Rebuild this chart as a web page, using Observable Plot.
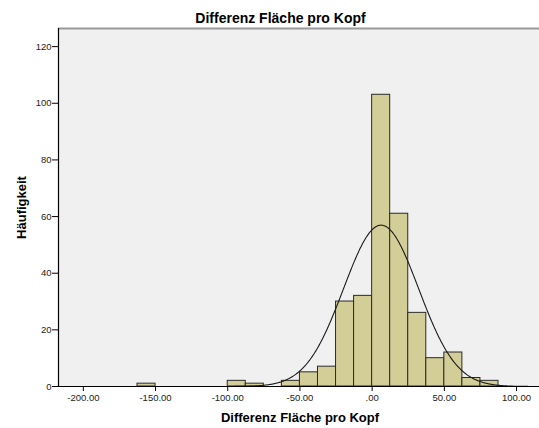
<!DOCTYPE html>
<html>
<head>
<meta charset="utf-8">
<script src="https://cdn.jsdelivr.net/npm/d3@7"></script>
<script src="https://cdn.jsdelivr.net/npm/@observablehq/plot@0.6"></script>
<style>
  html, body { margin: 0; padding: 0; background: #ffffff; }
  #chart { width: 539px; height: 428px; }
</style>
</head>
<body>
<div id="chart"></div>
<script>
// Histogram of per-capita area difference with fitted normal curve
const title = "Differenz Fläche pro Kopf";
const xLabel = "Differenz Fläche pro Kopf";
const yLabel = "Häufigkeit";

// Bin edges and frequencies
const binLow  = [-162.5, -100, -87.5, -62.5, -50, -37.5, -25, -12.5, 0, 12.5, 25, 37.5, 50, 62.5, 75];
const binHigh = [-150, -87.5, -75, -50, -37.5, -25, -12.5, 0, 12.5, 25, 37.5, 50, 62.5, 75, 87.5];
const counts  = [1, 2, 1, 2, 5, 7, 30, 32, 103, 61, 26, 10, 12, 3, 2];

// Axis ticks
const xTicks = [-200, -150, -100, -50, 0, 50, 100];
const yTicks = [0, 20, 40, 60, 80, 100, 120];

// Normal fit parameters
const fitMean = 6.2;
const fitSd = 26;
const binWidth = 12.5;

const xDomain = [-217.2, 115.9];
const yDomain = [0, 126.4];

const bars = binLow.map((lo, i) => ({lo, hi: binHigh[i], n: counts[i]}));
const total = d3.sum(counts);
const curve = d3.range(xDomain[0], xDomain[1] + 0.5, 0.5).map(x => ({
  x,
  y: total * binWidth / (fitSd * Math.sqrt(2 * Math.PI)) *
     Math.exp(-0.5 * ((x - fitMean) / fitSd) ** 2)
}));

const fmt = d => d.toFixed(2).replace(/^(-?)0\./, "$1.");

const chart = Plot.plot({
  width: 539,
  height: 428,
  marginTop: 28,
  marginLeft: 58,
  marginRight: 0,
  marginBottom: 42,
  style: {fontFamily: "'Liberation Sans', Arial, sans-serif", background: "#ffffff", color: "#222"},
  x: {domain: xDomain, ticks: xTicks, tickFormat: fmt, tickSize: 5, tickPadding: 3, label: null},
  y: {domain: yDomain, ticks: yTicks, tickSize: 6, tickPadding: 1, label: null},
  marks: [
    Plot.frame({fill: "#f0f0f0", stroke: null}),
    Plot.ruleY([yDomain[1]], {stroke: "#9a9a9a", strokeWidth: 2}),
    Plot.rectY(bars, {x1: "lo", x2: "hi", y: "n", fill: "#d3ce97", stroke: "#2a2a2a", strokeWidth: 1}),
    Plot.line(curve, {x: "x", y: "y", stroke: "#1a1a1a", strokeWidth: 1.1, curve: "linear"}),
    Plot.ruleY([0], {stroke: "#000", strokeWidth: 1.2}),
    Plot.ruleX([xDomain[0]], {stroke: "#000", strokeWidth: 1.2}),
    Plot.axisX({ticks: xTicks, tickFormat: fmt, tickSize: 5, tickPadding: 3, fontSize: 9.5, stroke: "#000", fill: "#222"}),
    Plot.axisY({ticks: yTicks, tickSize: 6, tickPadding: 1, fontSize: 9.5, stroke: "#000", fill: "#222"}),
    Plot.text([title], {frameAnchor: "top", dx: -18.5, dy: -10, fontSize: 14, fontWeight: "bold", fill: "#000", textAnchor: "middle", lineAnchor: "middle"}),
    Plot.text([xLabel], {frameAnchor: "bottom", dx: 1, dy: 31.5, fontSize: 13, fontWeight: "bold", fill: "#000", textAnchor: "middle", lineAnchor: "middle"}),
    Plot.text([yLabel], {frameAnchor: "left", dx: -37, rotate: -90, fontSize: 13, fontWeight: "bold", fill: "#000", textAnchor: "middle", lineAnchor: "middle"})
  ]
});

document.getElementById("chart").appendChild(chart);
</script>
</body>
</html>
